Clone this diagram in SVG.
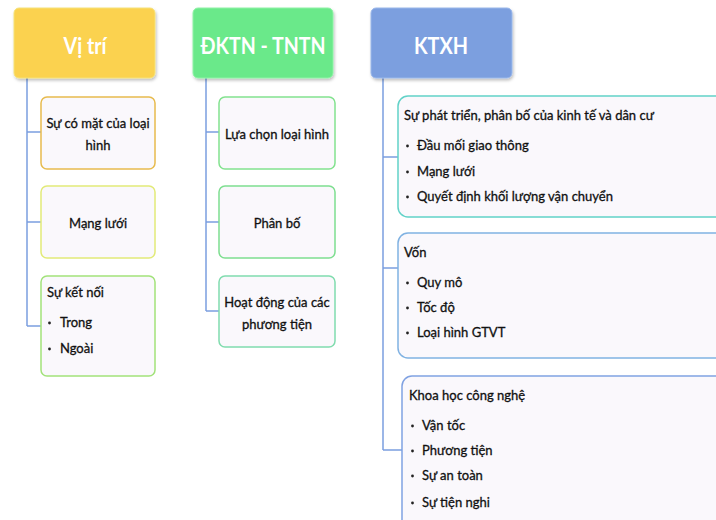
<svg xmlns="http://www.w3.org/2000/svg" width="716" height="520" viewBox="0 0 716 520">
<defs>
<filter id="sh" x="-10%" y="-10%" width="125%" height="130%">
<feDropShadow dx="1" dy="2" stdDeviation="1.5" flood-color="#000" flood-opacity="0.25"/>
</filter>
<style>
.hd{font-family:Lato,"Open Sans","Liberation Sans",sans-serif;font-size:23px;fill:#fff;text-anchor:middle;dominant-baseline:central;font-weight:bold}
.bx{fill:#faf8fc;stroke-width:1.5}
.t{font-family:Lato,"Open Sans","Liberation Sans",sans-serif;font-size:13px;fill:#111;stroke:#111;stroke-width:0.3;dominant-baseline:central}
.c{text-anchor:middle}
.ln{stroke:#7b9ee0;stroke-width:1.5;fill:none}
.b{fill:#222}
</style>
</defs>
<rect width="716" height="520" fill="#fff"/>
<g id="connectors">
<path class="ln" d="M27,78 V326 M27,132 H41 M27,222 H41 M27,326 H41"/>
<path class="ln" d="M206,78 V311 M206,132 H219 M206,222 H219 M206,311 H219"/>
<path class="ln" d="M383,78 V450 M383,157 H398 M383,268 H398 M383,450 H402"/>
</g>
<g id="h1">
<rect x="14" y="8" width="141" height="70" rx="5" fill="#fbd24f" stroke="#f5e27a" stroke-width="1" filter="url(#sh)"/>
<text class="hd" x="85" y="45" textLength="43" lengthAdjust="spacingAndGlyphs">Vị trí</text>
</g>
<g id="h2">
<rect x="193" y="8" width="140" height="70" rx="5" fill="#6ae98a" stroke="#8ff2a6" stroke-width="1" filter="url(#sh)"/>
<text class="hd" x="263" y="45" textLength="125" lengthAdjust="spacingAndGlyphs">ĐKTN - TNTN</text>
</g>
<g id="h3">
<rect x="371" y="8" width="141" height="70" rx="5" fill="#7b9fdf" stroke="#9bb8ea" stroke-width="1" filter="url(#sh)"/>
<text class="hd" x="441" y="45" textLength="54" lengthAdjust="spacingAndGlyphs">KTXH</text>
</g>
<g id="n1a">
<rect class="bx" x="41" y="97" width="114" height="72" rx="6" stroke="#e7bb4e"/>
<text class="t c" x="98" y="123">Sự có mặt của loại</text>
<text class="t c" x="98" y="145">hình</text>
</g>
<g id="n1b">
<rect class="bx" x="41" y="186" width="114" height="72" rx="6" stroke="#e2ea78"/>
<text class="t c" x="98" y="223">Mạng lưới</text>
</g>
<g id="n1c">
<rect class="bx" x="41" y="276" width="114" height="100" rx="6" stroke="#a2e27a"/>
<text class="t" x="47" y="292">Sự kết nối</text>
<circle class="b" cx="49.5" cy="323" r="1.4"/><text class="t" x="60" y="322">Trong</text>
<circle class="b" cx="49.5" cy="349" r="1.4"/><text class="t" x="60" y="348">Ngoài</text>
</g>
<g id="n2a">
<rect class="bx" x="219" y="97" width="116" height="72" rx="6" stroke="#82e28e"/>
<text class="t c" x="277" y="134">Lựa chọn loại hình</text>
</g>
<g id="n2b">
<rect class="bx" x="219" y="186" width="116" height="72" rx="6" stroke="#7ede90"/>
<text class="t c" x="277" y="223">Phân bố</text>
</g>
<g id="n2c">
<rect class="bx" x="219" y="276" width="116" height="71" rx="6" stroke="#80dcae"/>
<text class="t c" x="277" y="302">Hoạt động của các</text>
<text class="t c" x="277" y="324">phương tiện</text>
</g>
<g id="n3a">
<rect class="bx" x="398" y="96" width="330" height="121" rx="10" stroke="#62d2c8"/>
<text class="t" x="404" y="115">Sự phát triển, phân bố của kinh tế và dân cư</text>
<circle class="b" cx="407.5" cy="146" r="1.4"/><text class="t" x="417" y="145">Đầu mối giao thông</text>
<circle class="b" cx="407.5" cy="172" r="1.4"/><text class="t" x="417" y="171">Mạng lưới</text>
<circle class="b" cx="407.5" cy="197" r="1.4"/><text class="t" x="417" y="196">Quyết định khối lượng vận chuyển</text>
</g>
<g id="n3b">
<rect class="bx" x="398" y="233" width="330" height="125" rx="10" stroke="#80b2e2"/>
<text class="t" x="404" y="252">Vốn</text>
<circle class="b" cx="407.5" cy="283" r="1.4"/><text class="t" x="417" y="282">Quy mô</text>
<circle class="b" cx="407.5" cy="308" r="1.4"/><text class="t" x="417" y="307">Tốc độ</text>
<circle class="b" cx="407.5" cy="333" r="1.4"/><text class="t" x="417" y="332">Loại hình GTVT</text>
</g>
<g id="n3c">
<rect class="bx" x="402" y="376" width="330" height="160" rx="10" stroke="#80a2e2"/>
<text class="t" x="409" y="395">Khoa học công nghệ</text>
<circle class="b" cx="412.5" cy="426" r="1.4"/><text class="t" x="422" y="425">Vận tốc</text>
<circle class="b" cx="412.5" cy="451" r="1.4"/><text class="t" x="422" y="450">Phương tiện</text>
<circle class="b" cx="412.5" cy="476" r="1.4"/><text class="t" x="422" y="475">Sự an toàn</text>
<circle class="b" cx="412.5" cy="503" r="1.4"/><text class="t" x="422" y="502">Sự tiện nghi</text>
</g>
</svg>
